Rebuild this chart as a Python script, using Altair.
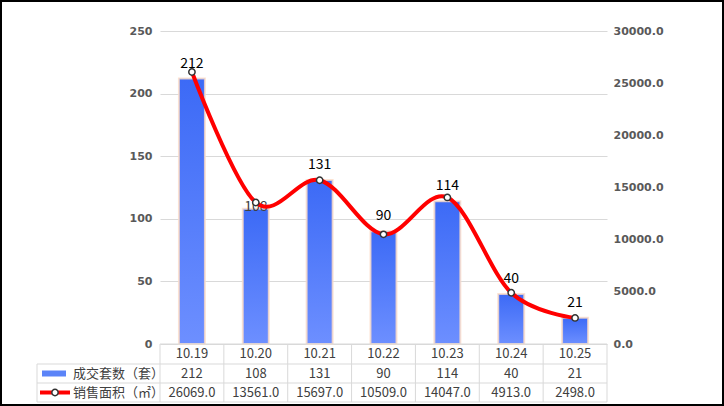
import altair as alt
import pandas as pd

cats = ["10.19", "10.20", "10.21", "10.22", "10.23", "10.24", "10.25"]
counts = [212, 108, 131, 90, 114, 40, 21]
areas = [26069.0, 13561.0, 15697.0, 10509.0, 14047.0, 4913.0, 2498.0]
count_ticks = [0, 50, 100, 150, 200, 250]
area_ticks = [0, 5000, 10000, 15000, 20000, 25000, 30000]
series_names = ["成交套数（套）", "销售面积（㎡）"]

W, H = 447, 313
ROW1, ROW2, ROW3 = 333, 352, 371
LEG_X = -123
CJK = "Noto Sans CJK SC"
TXT = "#404040"
GRID = "#d9d9d9"

df = pd.DataFrame({
    "cat": cats,
    "count": counts,
    "area": areas,
    "count_lbl": [str(c) for c in counts],
    "area_lbl": [f"{a:.1f}" for a in areas],
})
one = pd.DataFrame({"a": [0]})

base = alt.Chart(df)
xenc = alt.X("cat:N", sort=cats, axis=None,
             scale=alt.Scale(paddingInner=0, paddingOuter=0))

grad = alt.Gradient(
    gradient="linear",
    stops=[alt.GradientStop(color="#3c6af6", offset=0),
           alt.GradientStop(color="#6d8fff", offset=1)],
    x1=0, x2=0, y1=0, y2=1,
)

yc = alt.Y("count:Q", scale=alt.Scale(domain=[0, 250], nice=False),
           axis=alt.Axis(values=count_ticks, title=None, domain=False, ticks=False,
                         labelFont="DejaVu Sans", labelFontWeight="bold",
                         labelFontSize=11, labelColor="#595959", labelPadding=8,
                         grid=True, gridColor=GRID, gridWidth=1))

bars = base.mark_bar(size=26, color=grad, stroke="#fbdcc8", strokeWidth=2,
                     strokeOpacity=0.8).encode(x=xenc, y=yc)
labels = base.transform_filter(alt.datum.cat != "10.20").mark_text(
    font=CJK, fontSize=14, color="#000000", baseline="bottom", dy=-8
).encode(x=xenc, y=yc, text="count_lbl:N")
label108 = base.transform_filter(alt.datum.cat == "10.20").mark_text(
    font=CJK, fontSize=14, color="#404040", baseline="middle", dy=-2
).encode(x=xenc, y=yc, text="count_lbl:N")
bar_group = alt.layer(bars, labels, label108)

ya = alt.Y("area:Q", scale=alt.Scale(domain=[0, 30000], nice=False),
           axis=alt.Axis(values=area_ticks, title=None, orient="right", format=".1f",
                         domain=False, ticks=False, grid=False,
                         labelFont="DejaVu Sans", labelFontWeight="bold",
                         labelFontSize=11, labelColor="#595959", labelPadding=6))
line = base.mark_line(color="#ff0000", strokeWidth=4, interpolate="cardinal").encode(x=xenc, y=ya)
pts = base.mark_point(filled=True, fill="#ffffff", stroke="#333333", strokeWidth=1.5,
                      size=40, opacity=1).encode(x=xenc, y=ya)
line_group = alt.layer(line, pts)

# table
cat_txt = base.mark_text(font=CJK, fontSize=13, color=TXT, baseline="middle").encode(
    x=xenc, y=alt.value((H + ROW1) / 2), text="cat:N")
cnt_txt = base.mark_text(font=CJK, fontSize=13, color=TXT, baseline="middle").encode(
    x=xenc, y=alt.value((ROW1 + ROW2) / 2 + 0.5), text="count_lbl:N")
area_txt = base.mark_text(font=CJK, fontSize=13, color=TXT, baseline="middle").encode(
    x=xenc, y=alt.value((ROW2 + ROW3) / 2 + 0.5), text="area_lbl:N")

vlines = base.mark_rule(color=GRID, strokeWidth=1).encode(
    x=alt.X("cat:N", sort=cats, axis=None, bandPosition=0,
            scale=alt.Scale(paddingInner=0, paddingOuter=0)),
    y=alt.value(H), y2=alt.value(ROW3))
oc = alt.Chart(one)
right_edge = oc.mark_rule(color=GRID, strokeWidth=1).encode(
    x=alt.value(W), y=alt.value(H), y2=alt.value(ROW3))
leg_edge = oc.mark_rule(color=GRID, strokeWidth=1).encode(
    x=alt.value(LEG_X), y=alt.value(ROW1), y2=alt.value(ROW3))
h0 = oc.mark_rule(color=GRID, strokeWidth=1).encode(
    x=alt.value(0), x2=alt.value(W), y=alt.value(H), y2=alt.value(H))
h1 = oc.mark_rule(color=GRID, strokeWidth=1).encode(
    x=alt.value(LEG_X), x2=alt.value(W), y=alt.value(ROW1), y2=alt.value(ROW1))
h2 = oc.mark_rule(color=GRID, strokeWidth=1).encode(
    x=alt.value(LEG_X), x2=alt.value(W), y=alt.value(ROW2), y2=alt.value(ROW2))
h3 = oc.mark_rule(color=GRID, strokeWidth=1).encode(
    x=alt.value(LEG_X), x2=alt.value(W), y=alt.value(ROW3), y2=alt.value(ROW3))

leg_rect = oc.mark_rect(color="#5b84f8").encode(
    x=alt.value(-118), x2=alt.value(-94),
    y=alt.value((ROW1 + ROW2) / 2 - 3), y2=alt.value((ROW1 + ROW2) / 2 + 3))
leg_line = oc.mark_rule(color="#ff0000", strokeWidth=4).encode(
    x=alt.value(-120), x2=alt.value(-90),
    y=alt.value((ROW2 + ROW3) / 2), y2=alt.value((ROW2 + ROW3) / 2))
leg_pt = oc.mark_point(filled=True, fill="#ffffff", stroke="#333333", strokeWidth=1.5,
                       size=40, opacity=1).encode(
    x=alt.value(-105), y=alt.value((ROW2 + ROW3) / 2))
leg_t1 = oc.transform_calculate(t=f"'{series_names[0]}'").mark_text(
    font=CJK, fontSize=13, color=TXT, align="left", baseline="middle").encode(
    x=alt.value(-87), y=alt.value((ROW1 + ROW2) / 2 + 0.5), text="t:N")
leg_t2 = oc.transform_calculate(t=f"'{series_names[1]}'").mark_text(
    font=CJK, fontSize=13, color=TXT, align="left", baseline="middle").encode(
    x=alt.value(-87), y=alt.value((ROW2 + ROW3) / 2 + 0.5), text="t:N")

frame = oc.mark_rect(fill=None, stroke="#000000", strokeWidth=2).encode(
    x=alt.value(-159), x2=alt.value(W + 116),
    y=alt.value(-30), y2=alt.value(H + 61))

chart = alt.layer(
    bar_group, line_group,
    cat_txt, cnt_txt, area_txt,
    vlines, right_edge, leg_edge, h0, h1, h2, h3,
    leg_rect, leg_line, leg_pt, leg_t1, leg_t2, frame,
).resolve_scale(y="independent").properties(
    width=W, height=H,
    autosize=alt.AutoSizeParams(type="none"),
    padding={"left": 160, "top": 31, "right": 117, "bottom": 62},
    background="#ffffff",
).configure_view(stroke=None)

chart.save("out.html", embed_options={"renderer": "svg", "actions": False})
